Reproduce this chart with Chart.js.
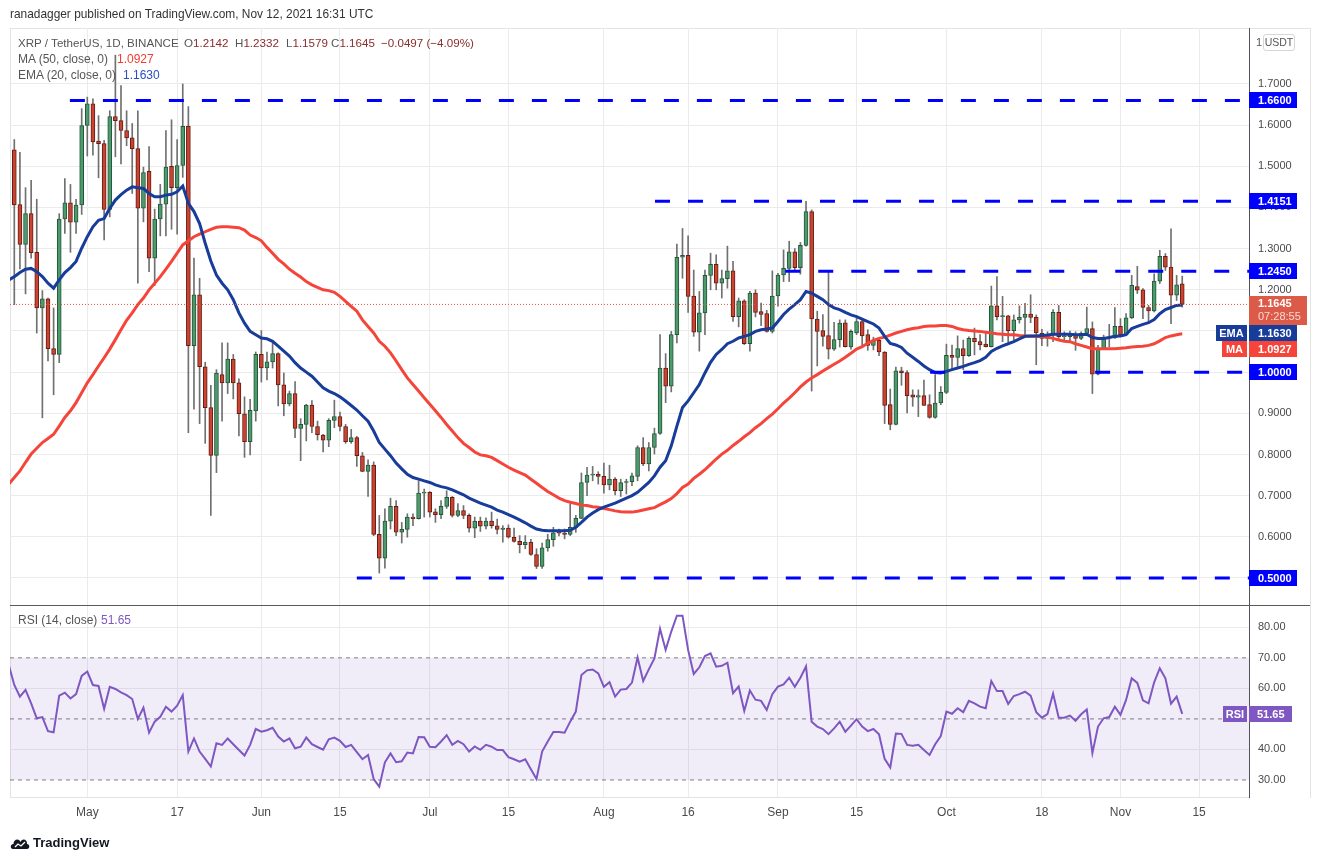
<!DOCTYPE html>
<html><head><meta charset="utf-8">
<script src="https://cdn.jsdelivr.net/npm/chart.js@4.4.0/dist/chart.umd.min.js"></script>
<style>
body{margin:0;background:#fff;}
#wrap{position:relative;width:1320px;height:860px;overflow:hidden;font-family:"Liberation Sans",Arial,sans-serif;background:#fff;}
.t{position:absolute;white-space:nowrap;line-height:1;z-index:5;}
.ln{position:absolute;z-index:1;}
canvas{position:absolute;left:0;z-index:2;}
.g{color:#555;}
.r{color:#8a2c2c;}
</style></head><body>
<div id="wrap">
<div class="ln" style="left:10px;top:28px;width:1300px;height:1px;background:#e3e3e3"></div>
<div class="ln" style="left:10px;top:28px;width:1px;height:770px;background:#e3e3e3"></div>
<div class="ln" style="left:1310px;top:28px;width:1px;height:770px;background:#e3e3e3"></div>
<canvas id="price" width="1320" height="605" style="top:0"></canvas>
<canvas id="rsi" width="1320" height="254" style="top:606px"></canvas>
<div class="ln" style="left:10px;top:605px;width:1300px;height:1px;background:#5a5a5a;z-index:4"></div>

<div class="t" style="left:10px;top:9px;font-size:11.9px;color:#333">ranadagger published on TradingView.com, Nov 12, 2021 16:31 UTC</div>
<div class="t g" style="left:18px;top:37px;font-size:11.6px">XRP / TetherUS, 1D, BINANCE</div>
<div class="t" style="left:184px;top:37px;font-size:11.6px"><span class="g">O</span><span class="r">1.2142</span></div>
<div class="t" style="left:235px;top:37px;font-size:11.6px"><span class="g">H</span><span class="r">1.2332</span></div>
<div class="t" style="left:286px;top:37px;font-size:11.6px"><span class="g">L</span><span class="r">1.1579</span></div>
<div class="t" style="left:331px;top:37px;font-size:11.6px"><span class="g">C</span><span class="r">1.1645</span></div>
<div class="t r" style="left:381px;top:37px;font-size:11.6px">−0.0497 (−4.09%)</div>
<div class="t g" style="left:18px;top:53px;font-size:12px">MA (50, close, 0)</div>
<div class="t" style="left:117px;top:53px;font-size:12px;color:#f23b30">1.0927</div>
<div class="t g" style="left:18px;top:69px;font-size:12px">EMA (20, close, 0)</div>
<div class="t" style="left:123px;top:69px;font-size:12px;color:#2a4fbf">1.1630</div>
<div class="t" style="left:1256px;top:37px;font-size:11px;color:#555">1</div>
<div class="t" style="left:1263px;top:34px;width:30px;height:15px;border:1px solid #d6d6d6;border-radius:3px;font-size:10.5px;color:#555;text-align:center;line-height:15px;background:#fff">USDT</div>
<div class="t g" style="left:18px;top:614px;font-size:12px">RSI (14, close)</div>
<div class="t" style="left:101px;top:614px;font-size:12px;color:#7e57c2">51.65</div>
<svg class="t" style="left:10px;top:836px" width="20" height="14" viewBox="0 0 20 14"><path d="M3 13 C0 13 0 8 3.5 8 C3.5 3 9 2 10.5 6 C12 2 17.5 3 17 8 C20 8 20 13 17 13 Z" fill="#131722"/><path d="M5 11 L8 8 L11 10 L15 6" stroke="#fff" stroke-width="1.3" fill="none"/></svg>
<div class="t" style="left:33px;top:836px;font-size:13px;font-weight:bold;color:#131722">TradingView</div>
</div>
<script>
// ---------- data (index 0 = Apr 17, partial; 1 = Apr 18 ... 209 = Nov 12, 2021) ----------
const OPEN=[null,1.540,1.407,1.310,1.385,1.291,1.156,1.178,1.057,1.043,1.372,
1.411,1.364,1.406,1.599,1.652,1.561,1.555,1.395,1.621,1.611,
1.587,1.569,1.543,1.398,1.488,1.277,1.372,1.408,1.500,1.448,
1.502,1.597,1.064,1.188,1.013,0.914,0.798,0.994,0.974,1.032,
0.974,0.899,0.831,0.906,1.043,1.010,1.025,1.045,0.969,0.923,
0.948,0.863,0.873,0.920,0.868,0.847,0.835,0.883,0.892,0.868,
0.831,0.841,0.797,0.759,0.774,0.606,0.548,0.638,0.674,0.611,
0.618,0.648,0.644,0.706,0.708,0.661,0.654,0.674,0.696,0.652,
0.664,0.652,0.621,0.638,0.626,0.638,0.627,0.618,0.621,0.599,
0.589,0.581,0.587,0.557,0.528,0.573,0.593,0.612,0.609,0.606,
0.623,0.645,0.732,0.750,0.752,0.747,0.726,0.740,0.712,0.732,
0.734,0.747,0.817,0.777,0.817,0.851,1.010,0.966,1.091,1.279,
1.284,1.185,1.097,1.144,1.235,1.262,1.216,1.227,1.246,1.135,
1.173,1.069,1.192,1.147,1.142,1.099,1.185,1.236,1.252,1.292,
1.254,1.308,1.390,1.129,1.101,1.089,1.056,1.079,1.120,1.061,
1.095,1.123,1.091,1.065,1.077,1.049,0.921,0.873,1.003,0.999,
0.945,0.939,0.943,0.921,0.890,0.925,0.951,1.041,1.036,1.057,
1.040,1.082,1.074,1.068,1.062,1.161,1.135,1.137,1.101,1.127,
1.133,1.141,1.133,1.095,1.082,1.090,1.145,1.086,1.086,1.092,
1.082,1.094,1.106,0.995,1.057,1.083,1.083,1.111,1.091,1.132,
1.208,1.200,1.157,1.149,1.221,1.281,1.255,1.187,1.2142];
const HIGH=[null,1.565,1.534,1.448,1.466,1.420,1.198,1.180,1.156,1.385,1.470,
1.456,1.420,1.640,1.668,1.664,1.623,1.563,1.635,1.770,1.696,
1.635,1.604,1.635,1.498,1.548,1.396,1.456,1.587,1.613,1.565,
1.700,1.645,1.277,1.228,1.024,0.968,1.006,1.071,1.071,1.043,
0.984,0.940,0.934,1.049,1.101,1.049,1.077,1.047,0.998,0.954,
0.977,0.887,0.922,0.931,0.881,0.849,0.887,0.932,0.903,0.873,
0.861,0.844,0.805,0.787,0.782,0.652,0.668,0.694,0.688,0.635,
0.656,0.656,0.736,0.716,0.710,0.668,0.688,0.712,0.698,0.681,
0.676,0.656,0.648,0.648,0.646,0.660,0.643,0.627,0.629,0.621,
0.603,0.603,0.594,0.571,0.585,0.606,0.623,0.619,0.619,0.680,
0.652,0.755,0.769,0.771,0.758,0.779,0.774,0.744,0.740,0.740,
0.755,0.821,0.841,0.829,0.864,1.091,1.045,1.099,1.311,1.349,
1.331,1.248,1.196,1.248,1.289,1.285,1.248,1.306,1.269,1.180,
1.176,1.196,1.200,1.168,1.150,1.246,1.240,1.297,1.318,1.300,
1.315,1.415,1.394,1.148,1.140,1.246,1.121,1.127,1.127,1.103,
1.131,1.131,1.103,1.085,1.080,1.050,0.959,1.012,1.012,1.004,
0.957,0.957,0.981,0.945,0.994,0.965,1.068,1.066,1.088,1.078,
1.086,1.107,1.091,1.095,1.209,1.232,1.184,1.138,1.139,1.161,
1.167,1.188,1.139,1.104,1.098,1.152,1.162,1.098,1.100,1.098,
1.098,1.158,1.122,1.065,1.090,1.116,1.157,1.130,1.142,1.235,
1.257,1.203,1.162,1.239,1.296,1.288,1.348,1.235,1.2332];
const LOW=[null,1.164,1.251,1.190,1.277,1.095,0.889,1.027,0.945,1.023,1.337,
1.291,1.337,1.383,1.525,1.527,1.472,1.321,1.377,1.523,1.506,
1.550,1.434,1.216,1.365,1.244,1.210,1.331,1.331,1.347,1.335,
1.473,0.853,0.910,0.875,0.827,0.652,0.756,0.881,0.948,0.935,
0.845,0.793,0.799,0.881,0.976,0.981,1.010,0.918,0.894,0.918,
0.841,0.785,0.833,0.853,0.835,0.806,0.819,0.865,0.857,0.827,
0.827,0.771,0.758,0.698,0.603,0.512,0.524,0.619,0.603,0.585,
0.599,0.627,0.643,0.648,0.648,0.635,0.644,0.669,0.648,0.649,
0.644,0.611,0.598,0.613,0.619,0.621,0.607,0.587,0.597,0.587,
0.561,0.571,0.555,0.523,0.523,0.565,0.577,0.602,0.595,0.603,
0.611,0.644,0.700,0.736,0.728,0.706,0.714,0.702,0.698,0.704,
0.724,0.736,0.773,0.760,0.801,0.849,0.926,0.952,1.071,1.228,
1.145,1.087,1.051,1.091,1.200,1.200,1.180,1.204,1.123,1.110,
1.067,1.051,1.134,1.113,1.097,1.095,1.160,1.220,1.220,1.248,
1.238,1.306,0.954,1.015,1.063,1.032,1.053,1.061,1.061,1.056,
1.091,1.062,1.053,1.054,1.040,0.875,0.860,0.872,0.968,0.901,
0.917,0.892,0.919,0.888,0.888,0.921,0.948,1.006,1.014,1.006,
1.038,1.042,1.054,1.061,1.061,1.127,1.074,1.074,1.078,1.119,
1.091,1.120,1.018,1.064,1.063,1.074,1.078,1.076,1.074,1.053,
1.079,1.090,0.948,0.993,1.055,1.061,1.082,1.086,1.090,1.130,
1.191,1.130,1.118,1.146,1.215,1.247,1.118,1.174,1.1579];
const CLOSE=[null,1.406,1.310,1.385,1.290,1.156,1.178,1.057,1.043,1.372,1.411,
1.364,1.406,1.599,1.652,1.559,1.555,1.395,1.621,1.611,1.587,
1.569,1.543,1.398,1.485,1.277,1.372,1.408,1.498,1.448,1.502,
1.597,1.064,1.188,1.013,0.914,0.798,0.998,0.974,1.032,0.974,
0.899,0.831,0.907,1.043,1.010,1.025,1.045,0.969,0.923,0.948,
0.863,0.873,0.920,0.868,0.848,0.835,0.883,0.892,0.868,0.831,
0.841,0.797,0.759,0.774,0.606,0.548,0.638,0.674,0.611,0.618,
0.648,0.644,0.706,0.708,0.660,0.654,0.674,0.696,0.652,0.664,
0.652,0.621,0.638,0.626,0.638,0.627,0.618,0.621,0.599,0.589,
0.581,0.587,0.557,0.528,0.573,0.593,0.610,0.609,0.606,0.623,
0.645,0.732,0.750,0.752,0.747,0.726,0.740,0.712,0.732,0.734,
0.748,0.817,0.777,0.817,0.851,1.010,0.966,1.091,1.279,1.284,
1.184,1.097,1.144,1.235,1.262,1.216,1.227,1.246,1.135,1.173,
1.069,1.192,1.145,1.140,1.099,1.185,1.236,1.252,1.292,1.254,
1.308,1.390,1.129,1.099,1.087,1.056,1.079,1.119,1.062,1.099,
1.123,1.088,1.065,1.076,1.049,0.919,0.873,1.003,0.999,0.943,
0.939,0.943,0.919,0.890,0.925,0.951,1.041,1.036,1.057,1.040,
1.082,1.074,1.066,1.062,1.161,1.135,1.137,1.101,1.127,1.133,
1.141,1.133,1.095,1.082,1.090,1.145,1.086,1.088,1.092,1.082,
1.094,1.106,0.995,1.057,1.083,1.086,1.111,1.091,1.132,1.211,
1.199,1.157,1.149,1.221,1.281,1.255,1.187,1.212,1.1645];
const EMA20=[1.224,1.232,1.242,1.250,1.252,1.244,1.232,1.216,1.204,1.224,1.242,
1.254,1.269,1.301,1.329,1.353,1.369,1.373,1.398,1.418,1.431,
1.442,1.450,1.448,1.446,1.434,1.426,1.426,1.430,1.432,1.438,
1.452,1.410,1.390,1.361,1.313,1.270,1.236,1.216,1.200,1.176,
1.144,1.119,1.099,1.091,1.083,1.081,1.075,1.063,1.051,1.039,
1.023,1.010,1.000,0.990,0.976,0.962,0.954,0.948,0.940,0.930,
0.919,0.908,0.894,0.881,0.857,0.829,0.813,0.797,0.779,0.765,
0.752,0.744,0.740,0.736,0.732,0.726,0.722,0.719,0.714,0.708,
0.702,0.694,0.688,0.682,0.677,0.672,0.665,0.660,0.654,0.648,
0.641,0.634,0.626,0.619,0.616,0.615,0.615,0.615,0.615,0.616,
0.623,0.635,0.648,0.658,0.666,0.672,0.677,0.682,0.688,0.694,
0.700,0.708,0.720,0.732,0.748,0.769,0.785,0.821,0.869,0.914,
0.930,0.950,0.970,0.998,1.024,1.043,1.055,1.069,1.075,1.083,
1.087,1.091,1.099,1.103,1.105,1.107,1.123,1.140,1.153,1.164,
1.176,1.196,1.192,1.184,1.176,1.164,1.156,1.152,1.145,1.139,
1.135,1.129,1.123,1.117,1.107,1.087,1.070,1.066,1.060,1.046,
1.036,1.026,1.015,1.006,0.999,0.998,1.002,1.006,1.010,1.014,
1.019,1.023,1.028,1.036,1.050,1.058,1.064,1.069,1.074,1.081,
1.087,1.088,1.088,1.089,1.090,1.092,1.092,1.092,1.092,1.091,
1.091,1.092,1.084,1.082,1.082,1.084,1.087,1.088,1.091,1.106,
1.111,1.116,1.120,1.128,1.142,1.152,1.157,1.162,1.163];
const MA50=[0.728,0.744,0.760,0.781,0.801,0.815,0.829,0.839,0.849,0.869,0.890,
0.906,0.926,0.950,0.974,0.994,1.015,1.035,1.056,1.079,1.103,
1.126,1.144,1.164,1.180,1.200,1.216,1.232,1.250,1.269,1.289,
1.309,1.319,1.329,1.335,1.341,1.347,1.352,1.353,1.353,1.352,
1.351,1.345,1.333,1.327,1.319,1.303,1.289,1.274,1.263,1.250,
1.240,1.231,1.220,1.212,1.206,1.200,1.198,1.194,1.184,1.172,
1.160,1.148,1.127,1.111,1.095,1.075,1.063,1.047,1.027,1.006,
0.986,0.970,0.954,0.938,0.922,0.906,0.890,0.873,0.857,0.841,
0.827,0.817,0.806,0.799,0.797,0.793,0.785,0.777,0.769,0.762,
0.756,0.750,0.740,0.730,0.720,0.710,0.702,0.694,0.688,0.684,
0.681,0.677,0.676,0.673,0.672,0.669,0.666,0.663,0.661,0.660,
0.660,0.662,0.665,0.668,0.671,0.678,0.685,0.693,0.705,0.720,
0.728,0.742,0.752,0.763,0.776,0.789,0.801,0.810,0.822,0.832,
0.843,0.853,0.865,0.875,0.887,0.898,0.911,0.925,0.937,0.950,
0.964,0.976,0.986,0.994,1.003,1.011,1.019,1.027,1.036,1.046,
1.056,1.062,1.070,1.077,1.082,1.085,1.090,1.095,1.099,1.103,
1.106,1.108,1.111,1.112,1.112,1.113,1.113,1.111,1.106,1.103,
1.101,1.100,1.099,1.097,1.095,1.093,1.092,1.091,1.091,1.089,
1.088,1.087,1.087,1.086,1.085,1.082,1.078,1.075,1.074,1.069,
1.065,1.061,1.057,1.057,1.057,1.057,1.057,1.058,1.059,1.061,
1.062,1.063,1.065,1.069,1.076,1.084,1.088,1.091,1.093];
const RSI14=[67.7,61.1,57.3,59.5,55.1,50.2,50.6,46.0,45.6,57.6,58.6,
56.7,58.1,64.1,65.5,61.1,60.8,53.3,60.5,59.8,58.7,
57.8,56.5,50.0,53.7,45.5,49.1,50.7,54.0,52.4,54.3,
57.8,39.3,43.6,39.3,36.9,34.4,42.0,41.5,43.6,41.7,
39.8,38.0,41.5,46.7,45.8,46.3,47.1,44.2,42.6,43.6,
40.4,40.9,43.9,41.7,40.8,39.9,43.3,43.9,42.8,40.8,
41.5,39.1,36.8,38.2,30.3,27.8,35.8,38.7,35.8,36.1,
39.0,38.7,44.1,44.0,40.9,40.7,42.6,44.7,41.5,42.8,
41.7,39.3,41.0,39.9,41.5,40.9,39.8,39.8,37.5,36.8,
36.0,36.8,33.5,30.3,39.3,42.6,45.7,45.7,45.5,49.1,
52.4,64.4,65.9,66.2,64.9,60.5,62.0,57.3,59.6,59.8,
61.9,70.1,62.4,66.2,69.8,79.5,72.6,78.6,83.8,83.8,
72.6,64.7,66.9,70.6,71.5,67.1,67.4,68.4,58.4,60.6,
52.6,59.3,56.3,55.9,52.9,58.1,60.6,61.3,63.5,60.5,
63.5,67.2,49.1,47.5,46.7,45.0,46.9,49.1,45.8,47.8,
49.9,47.5,46.0,46.7,45.0,36.9,34.1,45.2,45.1,41.5,
41.2,41.5,39.8,38.2,41.7,44.4,52.4,51.7,53.5,52.2,
55.9,55.1,54.0,53.5,62.4,59.1,59.1,54.9,57.5,58.1,
58.9,57.6,52.2,50.4,51.6,58.3,50.4,50.4,51.1,49.4,
51.5,53.1,38.8,47.5,50.2,50.6,54.0,51.3,56.2,63.3,
61.8,56.1,55.1,62.0,66.6,63.3,55.0,57.3,51.65];

// axis ticks / labels
const DATE_TICK_IDX=[14,30,45,59,75,89,106,121,137,151,167,184,198,212];
const DATE_TICK_TEXT=['May','17','Jun','15','Jul','15','Aug','16','Sep','15','Oct','18','Nov','15'];
const PRICE_TICKS=[0.5,0.6,0.7,0.8,0.9,1.0,1.1,1.2,1.3,1.4,1.5,1.6,1.7];
const RSI_TICKS=[30,40,50,60,70,80];
const RSI_LEVELS=[70,50,30];
// horizontal drawings (price level, first candle index where the drawing starts)
const LEVELS=[1.66,1.4151,1.245,1.0,0.5];
const LEVEL_START=[10.9,115.1,138.3,164.1,62.0];
// last values
const LAST_PRICE=1.1645, LAST_EMA=1.1630, LAST_MA=1.0927, LAST_RSI=51.65, COUNTDOWN='07:28:55';

// view ranges
const X_MIN=0.234, X_MAX=220.89;
const Y_MIN=0.4344, Y_MAX=1.8359;
const R_MIN=24.43, R_MAX=86.97;

// ---------- styles ----------
const FONT='"Liberation Sans", Arial, sans-serif';
const UP_FILL='#4d9b6d', UP_LINE='#24553a', DN_FILL='#cb4331', DN_LINE='#641d14', WICK='#707070';
const EMA_COLOR='#173c9a', MA_COLOR='#f5453a', LEVEL_COLOR='#0000ff', PRICE_COLOR='#dc5b48', RSI_COLOR='#7e57c2';
const GRID='#ebebeb', AXIS_TXT='#4a4a4a';
Chart.defaults.font.family=FONT;
Chart.defaults.color=AXIS_TXT;

// ---------- build datasets ----------
const wicks=[], bodies=[], bodyFill=[], bodyLine=[];
for(let i=0;i<OPEN.length;i++){
  if(OPEN[i]==null) continue;
  wicks.push({x:i,y:[LOW[i],HIGH[i]]});
  bodies.push({x:i,y:[OPEN[i],CLOSE[i]]});
  const up=CLOSE[i]>=OPEN[i];
  bodyFill.push(up?UP_FILL:DN_FILL);
  bodyLine.push(up?UP_LINE:DN_LINE);
}
const asXY=a=>a.map((v,i)=>({x:i,y:v}));
const levelSets=LEVELS.map((v,k)=>({type:'line',order:0,data:[{x:LEVEL_START[k],y:v},{x:X_MAX,y:v}],
  borderColor:LEVEL_COLOR,borderWidth:3,borderDash:[15,18],borderCapStyle:'butt',pointRadius:0}));
const noPad=s=>{s.paddingTop=0;s.paddingBottom=0;s.paddingLeft=0;s.paddingRight=0;};

function box(ctx,x,y,w,h,c){ctx.fillStyle=c;ctx.fillRect(x,y,w,h);}
const priceLabels={id:'priceLabels',afterDraw(chart){
  const ctx=chart.ctx, ys=chart.scales.y, ax=chart.chartArea.right;
  ctx.save();
  ctx.textBaseline='middle'; ctx.textAlign='left';
  LEVELS.forEach(v=>{
    const py=Math.round(ys.getPixelForValue(v));
    box(ctx,ax,py-8,48,16,LEVEL_COLOR);
    ctx.fillStyle='#fff'; ctx.font='bold 11px '+FONT;
    ctx.fillText(v.toFixed(4),ax+9,py+0.5);
  });
  const pt=Math.round(ys.getPixelForValue(LAST_PRICE)-8);
  box(ctx,ax,pt,58,29,PRICE_COLOR);
  ctx.fillStyle='#fff'; ctx.font='bold 11px '+FONT;
  ctx.fillText(LAST_PRICE.toFixed(4),ax+9,pt+8);
  ctx.fillStyle='#f9d9d3'; ctx.font='11px '+FONT;
  ctx.fillText(COUNTDOWN,ax+9,pt+21);
  let et=Math.max(Math.round(ys.getPixelForValue(LAST_EMA)-8),pt+29);
  box(ctx,ax,et,48,16,EMA_COLOR); box(ctx,ax-33,et,31,16,EMA_COLOR);
  ctx.fillStyle='#fff'; ctx.font='bold 11px '+FONT;
  ctx.fillText(LAST_EMA.toFixed(4),ax+9,et+8.5);
  ctx.textAlign='center'; ctx.fillText('EMA',ax-17.5,et+8.5); ctx.textAlign='left';
  let mt=Math.max(Math.round(ys.getPixelForValue(LAST_MA)-8),et+16);
  box(ctx,ax,mt,48,16,MA_COLOR); box(ctx,ax-27,mt,25,16,MA_COLOR);
  ctx.fillStyle='#fff';
  ctx.fillText(LAST_MA.toFixed(4),ax+9,mt+8.5);
  ctx.textAlign='center'; ctx.fillText('MA',ax-14.5,mt+8.5);
  ctx.restore();
}};

new Chart(document.getElementById('price'),{
  type:'bar',
  data:{datasets:[
    ...levelSets,
    {type:'line',order:1,data:[{x:X_MIN,y:LAST_PRICE},{x:X_MAX,y:LAST_PRICE}],borderColor:'#e0503d',borderWidth:1,borderDash:[1,2],pointRadius:0},
    {type:'line',order:2,data:asXY(EMA20),borderColor:EMA_COLOR,borderWidth:3,pointRadius:0,tension:0},
    {type:'line',order:3,data:asXY(MA50),borderColor:MA_COLOR,borderWidth:3,pointRadius:0,tension:0},
    {type:'bar',order:4,data:bodies,backgroundColor:bodyFill,borderColor:bodyLine,borderWidth:1,borderSkipped:false,barThickness:4,minBarLength:1,grouped:false},
    {type:'bar',order:5,data:wicks,backgroundColor:WICK,borderWidth:0,barThickness:1,grouped:false}
  ]},
  options:{
    responsive:false,animation:false,events:[],
    layout:{padding:{left:10,right:9,top:28,bottom:0}},
    plugins:{legend:{display:false},tooltip:{enabled:false}},
    scales:{
      x:{type:'linear',min:X_MIN,max:X_MAX,offset:false,
        grid:{color:GRID,drawTicks:false,offset:false},border:{display:false},
        ticks:{display:false},
        afterBuildTicks:s=>{s.ticks=DATE_TICK_IDX.map(v=>({value:v}));},
        afterFit:s=>{s.height=0;noPad(s);}},
      y:{type:'linear',position:'right',min:Y_MIN,max:Y_MAX,
        grid:{color:GRID,drawTicks:false},border:{display:true,color:'#50535e'},
        ticks:{padding:9,font:{size:11},color:AXIS_TXT,callback:v=>Number(v).toFixed(4)},
        afterBuildTicks:s=>{s.ticks=PRICE_TICKS.map(v=>({value:v}));},
        afterFit:s=>{s.width=62;noPad(s);}}
    }
  },
  plugins:[priceLabels]
});

const rsiLabel={id:'rsiLabel',afterDraw(chart){
  const ctx=chart.ctx, ys=chart.scales.y, ax=chart.chartArea.right;
  const py=Math.round(ys.getPixelForValue(LAST_RSI));
  ctx.save();
  box(ctx,ax-26,py-8,24,16,RSI_COLOR); box(ctx,ax,py-8,43,16,RSI_COLOR);
  ctx.fillStyle='#fff'; ctx.font='bold 11px '+FONT; ctx.textBaseline='middle';
  ctx.textAlign='center'; ctx.fillText('RSI',ax-14,py+0.5);
  ctx.textAlign='left'; ctx.fillText(LAST_RSI.toFixed(2),ax+8,py+0.5);
  ctx.restore();
}};

const rsiLevelSets=RSI_LEVELS.map((v,k)=>({type:'line',order:1,data:[{x:X_MIN,y:v},{x:X_MAX,y:v}],
  borderColor:'#7d7d86',borderWidth:1,borderDash:[4,4],pointRadius:0,
  fill:k===0?{value:RSI_LEVELS[RSI_LEVELS.length-1]}:false,
  backgroundColor:'rgba(126,87,194,0.11)'}));

new Chart(document.getElementById('rsi'),{
  type:'line',
  data:{datasets:[
    {order:0,data:asXY(RSI14),borderColor:RSI_COLOR,borderWidth:2,pointRadius:0,tension:0},
    ...rsiLevelSets
  ]},
  options:{
    responsive:false,animation:false,events:[],
    layout:{padding:{left:10,right:9,top:0,bottom:33}},
    plugins:{legend:{display:false},tooltip:{enabled:false}},
    scales:{
      x:{type:'linear',min:X_MIN,max:X_MAX,offset:false,
        grid:{color:GRID,drawTicks:false},border:{display:true,color:'#e3e3e3'},
        ticks:{padding:8,font:{size:12},color:AXIS_TXT,maxRotation:0,autoSkip:false,
          callback:v=>{const k=DATE_TICK_IDX.indexOf(v);return k<0?'':DATE_TICK_TEXT[k];}},
        afterBuildTicks:s=>{s.ticks=DATE_TICK_IDX.map(v=>({value:v}));},
        afterFit:s=>{s.height=30;noPad(s);}},
      y:{type:'linear',position:'right',min:R_MIN,max:R_MAX,
        grid:{drawTicks:false,color:c=>(c.tick&&RSI_LEVELS.includes(c.tick.value))?'rgba(0,0,0,0)':GRID},
        border:{display:true,color:'#50535e'},
        ticks:{padding:9,font:{size:11},color:AXIS_TXT,callback:v=>Number(v).toFixed(2)},
        afterBuildTicks:s=>{s.ticks=RSI_TICKS.map(v=>({value:v}));},
        afterFit:s=>{s.width=62;noPad(s);}}
    }
  },
  plugins:[rsiLabel]
});
</script>
</body></html>
